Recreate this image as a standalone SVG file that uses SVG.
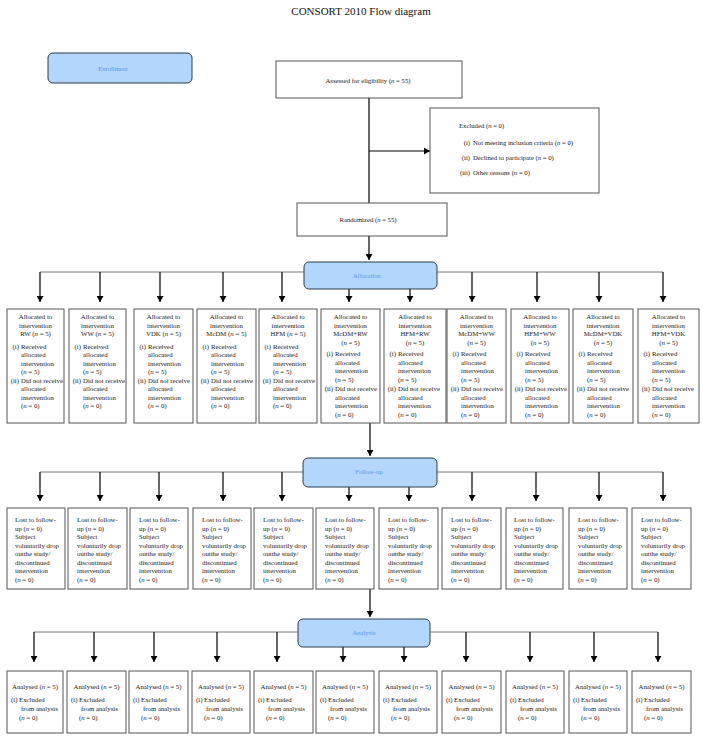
<svg xmlns="http://www.w3.org/2000/svg" width="703" height="741" viewBox="0 0 703 741">
<style>
.box{fill:#fff;stroke:#555;stroke-width:1}
.blue{fill:#b3d6fd;stroke:#2b3a4a;stroke-width:1}
.t{font-family:"Liberation Serif",serif;font-size:6.8px;fill:#1a1a1a}
.s{font-family:"Liberation Serif",serif;font-size:6.7px;fill:#1a1a1a}
.bt{font-family:"Liberation Serif",serif;font-size:6.6px;fill:#5a96e6;text-anchor:middle}
.c{text-anchor:middle}
.e{text-anchor:end}
.i{font-style:italic}
.h{stroke:#777;stroke-width:1;fill:none}
.a{stroke:#000;stroke-width:1.2;fill:none;marker-end:url(#ah)}
.l{stroke:#000;stroke-width:1.2;fill:none}
</style>
<defs>
<marker id="ah" viewBox="0 0 10 10" refX="10" refY="5" markerWidth="6" markerHeight="7" orient="auto" markerUnits="userSpaceOnUse" preserveAspectRatio="none">
<path d="M0,0 L10,5 L0,10 z" fill="#000"/>
</marker>
</defs>
<rect width="703" height="741" fill="#fff"/>
<text x="361" y="15" class="c" style="font-family:'Liberation Serif',serif;font-size:11px;fill:#111">CONSORT 2010 Flow diagram</text>

<g id="connectors">
<line class="l" x1="369" y1="98" x2="369" y2="203"/>
<line class="a" x1="369" y1="151" x2="430" y2="151"/>
<line class="a" x1="369" y1="236" x2="369" y2="260"/>
<line class="h" x1="40" y1="272" x2="663" y2="272"/>
<line class="a" x1="40" y1="272" x2="40" y2="302"/>
<line class="a" x1="100" y1="272" x2="100" y2="302"/>
<line class="a" x1="160" y1="272" x2="160" y2="302"/>
<line class="a" x1="223" y1="272" x2="223" y2="302"/>
<line class="a" x1="282" y1="272" x2="282" y2="302"/>
<line class="a" x1="349" y1="289" x2="349" y2="302"/>
<line class="a" x1="410" y1="289" x2="410" y2="302"/>
<line class="a" x1="472" y1="272" x2="472" y2="302"/>
<line class="a" x1="537" y1="272" x2="537" y2="302"/>
<line class="a" x1="599" y1="272" x2="599" y2="302"/>
<line class="a" x1="663" y1="272" x2="663" y2="302"/>
<line class="a" x1="370" y1="423" x2="370" y2="456"/>
<line class="h" x1="40" y1="472" x2="663" y2="472"/>
<line class="a" x1="40" y1="472" x2="40" y2="501"/>
<line class="a" x1="100" y1="472" x2="100" y2="501"/>
<line class="a" x1="159" y1="472" x2="159" y2="501"/>
<line class="a" x1="223" y1="472" x2="223" y2="501"/>
<line class="a" x1="282" y1="472" x2="282" y2="501"/>
<line class="a" x1="349" y1="487" x2="349" y2="501"/>
<line class="a" x1="409" y1="487" x2="409" y2="501"/>
<line class="a" x1="472" y1="472" x2="472" y2="501"/>
<line class="a" x1="536" y1="472" x2="536" y2="501"/>
<line class="a" x1="599" y1="472" x2="599" y2="501"/>
<line class="a" x1="663" y1="472" x2="663" y2="501"/>
<line class="a" x1="370" y1="589" x2="370" y2="617"/>
<line class="h" x1="34" y1="632" x2="658" y2="632"/>
<line class="a" x1="34" y1="632" x2="34" y2="662"/>
<line class="a" x1="94" y1="632" x2="94" y2="662"/>
<line class="a" x1="154" y1="632" x2="154" y2="662"/>
<line class="a" x1="217" y1="632" x2="217" y2="662"/>
<line class="a" x1="277" y1="632" x2="277" y2="662"/>
<line class="a" x1="343" y1="647" x2="343" y2="662"/>
<line class="a" x1="404" y1="647" x2="404" y2="662"/>
<line class="a" x1="466" y1="632" x2="466" y2="662"/>
<line class="a" x1="530" y1="632" x2="530" y2="662"/>
<line class="a" x1="594" y1="632" x2="594" y2="662"/>
<line class="a" x1="658" y1="632" x2="658" y2="662"/>
</g>

<g id="enrollment">
<rect class="blue" x="48" y="53" width="144" height="30" rx="5"/>
<text class="bt" x="113" y="71">Enrollment</text>
</g>
<g id="assessed">
<rect class="box" x="276" y="61" width="186" height="37"/>
<text class="s c" x="368" y="83">Assessed for eligibility (<tspan class="i">n</tspan> = 55)</text>
</g>
<g id="excluded">
<rect class="box" x="430" y="108" width="169" height="85"/>
<text class="s" x="459" y="128">Excluded (<tspan class="i">n</tspan> = 0)</text>
<text class="s e"><tspan x="470" y="145">(i)</tspan><tspan x="470" y="160">(ii)</tspan><tspan x="470" y="175">(iii)</tspan></text>
<text class="s"><tspan x="473" y="145">Not meeting inclusion criteria (<tspan class="i">n</tspan> = 0)</tspan><tspan x="473" y="160">Declined to participate (<tspan class="i">n</tspan> = 0)</tspan><tspan x="473" y="175">Other reasons (<tspan class="i">n</tspan> = 0)</tspan></text>
</g>
<g id="randomized">
<rect class="box" x="297" y="203" width="150" height="33"/>
<text class="s c" x="368" y="222">Randomized (<tspan class="i">n</tspan> = 55)</text>
</g>
<g id="allocation">
<rect class="blue" x="304" y="262" width="133" height="27" rx="5"/>
<text class="bt" x="367" y="278">Allocation</text>
</g>

<g id="alloc-rw">
<rect class="box" x="7" y="309" width="57" height="114"/>
<text class="t c"><tspan x="35.5" y="319">Allocated to</tspan><tspan x="35.5" y="327.5">intervention</tspan><tspan x="35.5" y="336">RW (<tspan class="i">n</tspan> = 5)</tspan></text>
<text class="t e"><tspan x="19" y="348.5">(i)</tspan><tspan x="19" y="382.5">(ii)</tspan></text>
<text class="t"><tspan x="21" y="348.5">Received</tspan><tspan x="21" y="357">allocated</tspan><tspan x="21" y="365.5">intervention</tspan><tspan x="21" y="374">(<tspan class="i">n</tspan> = 5)</tspan><tspan x="21" y="382.5">Did not receive</tspan><tspan x="21" y="391">allocated</tspan><tspan x="21" y="399.5">intervention</tspan><tspan x="21" y="408">(<tspan class="i">n</tspan> = 0)</tspan></text>
</g>
<g id="alloc-ww">
<rect class="box" x="69" y="309" width="57" height="114"/>
<text class="t c"><tspan x="97.5" y="319">Allocated to</tspan><tspan x="97.5" y="327.5">intervention</tspan><tspan x="97.5" y="336">WW (<tspan class="i">n</tspan> = 5)</tspan></text>
<text class="t e"><tspan x="81" y="348.5">(i)</tspan><tspan x="81" y="382.5">(ii)</tspan></text>
<text class="t"><tspan x="83" y="348.5">Received</tspan><tspan x="83" y="357">allocated</tspan><tspan x="83" y="365.5">intervention</tspan><tspan x="83" y="374">(<tspan class="i">n</tspan> = 5)</tspan><tspan x="83" y="382.5">Did not receive</tspan><tspan x="83" y="391">allocated</tspan><tspan x="83" y="399.5">intervention</tspan><tspan x="83" y="408">(<tspan class="i">n</tspan> = 0)</tspan></text>
</g>
<g id="alloc-vdk">
<rect class="box" x="134" y="309" width="59" height="114"/>
<text class="t c"><tspan x="163.5" y="319">Allocated to</tspan><tspan x="163.5" y="327.5">intervention</tspan><tspan x="163.5" y="336">VDK (<tspan class="i">n</tspan> = 5)</tspan></text>
<text class="t e"><tspan x="146" y="348.5">(i)</tspan><tspan x="146" y="382.5">(ii)</tspan></text>
<text class="t"><tspan x="148" y="348.5">Received</tspan><tspan x="148" y="357">allocated</tspan><tspan x="148" y="365.5">intervention</tspan><tspan x="148" y="374">(<tspan class="i">n</tspan> = 5)</tspan><tspan x="148" y="382.5">Did not receive</tspan><tspan x="148" y="391">allocated</tspan><tspan x="148" y="399.5">intervention</tspan><tspan x="148" y="408">(<tspan class="i">n</tspan> = 0)</tspan></text>
</g>
<g id="alloc-mcdm">
<rect class="box" x="197" y="309" width="59" height="114"/>
<text class="t c"><tspan x="226.5" y="319">Allocated to</tspan><tspan x="226.5" y="327.5">intervention</tspan><tspan x="226.5" y="336">McDM (<tspan class="i">n</tspan> = 5)</tspan></text>
<text class="t e"><tspan x="209" y="348.5">(i)</tspan><tspan x="209" y="382.5">(ii)</tspan></text>
<text class="t"><tspan x="211" y="348.5">Received</tspan><tspan x="211" y="357">allocated</tspan><tspan x="211" y="365.5">intervention</tspan><tspan x="211" y="374">(<tspan class="i">n</tspan> = 5)</tspan><tspan x="211" y="382.5">Did not receive</tspan><tspan x="211" y="391">allocated</tspan><tspan x="211" y="399.5">intervention</tspan><tspan x="211" y="408">(<tspan class="i">n</tspan> = 0)</tspan></text>
</g>
<g id="alloc-hfm">
<rect class="box" x="259" y="309" width="58" height="114"/>
<text class="t c"><tspan x="288" y="319">Allocated to</tspan><tspan x="288" y="327.5">intervention</tspan><tspan x="288" y="336">HFM (<tspan class="i">n</tspan> = 5)</tspan></text>
<text class="t e"><tspan x="271" y="348.5">(i)</tspan><tspan x="271" y="382.5">(ii)</tspan></text>
<text class="t"><tspan x="273" y="348.5">Received</tspan><tspan x="273" y="357">allocated</tspan><tspan x="273" y="365.5">intervention</tspan><tspan x="273" y="374">(<tspan class="i">n</tspan> = 5)</tspan><tspan x="273" y="382.5">Did not receive</tspan><tspan x="273" y="391">allocated</tspan><tspan x="273" y="399.5">intervention</tspan><tspan x="273" y="408">(<tspan class="i">n</tspan> = 0)</tspan></text>
</g>
<g id="alloc-mcdm-rw">
<rect class="box" x="321" y="309" width="59" height="114"/>
<text class="t c"><tspan x="350.5" y="319">Allocated to</tspan><tspan x="350.5" y="327.5">intervention</tspan><tspan x="350.5" y="336">McDM+RW</tspan><tspan x="350.5" y="344.5">(<tspan class="i">n</tspan> = 5)</tspan></text>
<text class="t e"><tspan x="333" y="356">(i)</tspan><tspan x="333" y="391">(ii)</tspan></text>
<text class="t"><tspan x="335" y="356">Received</tspan><tspan x="335" y="364.5">allocated</tspan><tspan x="335" y="373">intervention</tspan><tspan x="335" y="381.5">(<tspan class="i">n</tspan> = 5)</tspan><tspan x="335" y="391">Did not receive</tspan><tspan x="335" y="399.5">allocated</tspan><tspan x="335" y="408">intervention</tspan><tspan x="335" y="416.5">(<tspan class="i">n</tspan> = 0)</tspan></text>
</g>
<g id="alloc-hfm-rw">
<rect class="box" x="384" y="309" width="62" height="114"/>
<text class="t c"><tspan x="415" y="319">Allocated to</tspan><tspan x="415" y="327.5">intervention</tspan><tspan x="415" y="336">HFM+RW</tspan><tspan x="415" y="344.5">(<tspan class="i">n</tspan> = 5)</tspan></text>
<text class="t e"><tspan x="396" y="356">(i)</tspan><tspan x="396" y="391">(ii)</tspan></text>
<text class="t"><tspan x="398" y="356">Received</tspan><tspan x="398" y="364.5">allocated</tspan><tspan x="398" y="373">intervention</tspan><tspan x="398" y="381.5">(<tspan class="i">n</tspan> = 5)</tspan><tspan x="398" y="391">Did not receive</tspan><tspan x="398" y="399.5">allocated</tspan><tspan x="398" y="408">intervention</tspan><tspan x="398" y="416.5">(<tspan class="i">n</tspan> = 0)</tspan></text>
</g>
<g id="alloc-mcdm-ww">
<rect class="box" x="447" y="309" width="59" height="114"/>
<text class="t c"><tspan x="476.5" y="319">Allocated to</tspan><tspan x="476.5" y="327.5">intervention</tspan><tspan x="476.5" y="336">McDM+WW</tspan><tspan x="476.5" y="344.5">(<tspan class="i">n</tspan> = 5)</tspan></text>
<text class="t e"><tspan x="459" y="356">(i)</tspan><tspan x="459" y="391">(ii)</tspan></text>
<text class="t"><tspan x="461" y="356">Received</tspan><tspan x="461" y="364.5">allocated</tspan><tspan x="461" y="373">intervention</tspan><tspan x="461" y="381.5">(<tspan class="i">n</tspan> = 5)</tspan><tspan x="461" y="391">Did not receive</tspan><tspan x="461" y="399.5">allocated</tspan><tspan x="461" y="408">intervention</tspan><tspan x="461" y="416.5">(<tspan class="i">n</tspan> = 0)</tspan></text>
</g>
<g id="alloc-hfm-ww">
<rect class="box" x="511" y="309" width="58" height="114"/>
<text class="t c"><tspan x="540" y="319">Allocated to</tspan><tspan x="540" y="327.5">intervention</tspan><tspan x="540" y="336">HFM+WW</tspan><tspan x="540" y="344.5">(<tspan class="i">n</tspan> = 5)</tspan></text>
<text class="t e"><tspan x="523" y="356">(i)</tspan><tspan x="523" y="391">(ii)</tspan></text>
<text class="t"><tspan x="525" y="356">Received</tspan><tspan x="525" y="364.5">allocated</tspan><tspan x="525" y="373">intervention</tspan><tspan x="525" y="381.5">(<tspan class="i">n</tspan> = 5)</tspan><tspan x="525" y="391">Did not receive</tspan><tspan x="525" y="399.5">allocated</tspan><tspan x="525" y="408">intervention</tspan><tspan x="525" y="416.5">(<tspan class="i">n</tspan> = 0)</tspan></text>
</g>
<g id="alloc-mcdm-vdk">
<rect class="box" x="573" y="309" width="60" height="114"/>
<text class="t c"><tspan x="603" y="319">Allocated to</tspan><tspan x="603" y="327.5">intervention</tspan><tspan x="603" y="336">McDM+VDK</tspan><tspan x="603" y="344.5">(<tspan class="i">n</tspan> = 5)</tspan></text>
<text class="t e"><tspan x="585" y="356">(i)</tspan><tspan x="585" y="391">(ii)</tspan></text>
<text class="t"><tspan x="587" y="356">Received</tspan><tspan x="587" y="364.5">allocated</tspan><tspan x="587" y="373">intervention</tspan><tspan x="587" y="381.5">(<tspan class="i">n</tspan> = 5)</tspan><tspan x="587" y="391">Did not receive</tspan><tspan x="587" y="399.5">allocated</tspan><tspan x="587" y="408">intervention</tspan><tspan x="587" y="416.5">(<tspan class="i">n</tspan> = 0)</tspan></text>
</g>
<g id="alloc-hfm-vdk">
<rect class="box" x="638" y="309" width="61" height="114"/>
<text class="t c"><tspan x="668.5" y="319">Allocated to</tspan><tspan x="668.5" y="327.5">intervention</tspan><tspan x="668.5" y="336">HFM+VDK</tspan><tspan x="668.5" y="344.5">(<tspan class="i">n</tspan> = 5)</tspan></text>
<text class="t e"><tspan x="650" y="356">(i)</tspan><tspan x="650" y="391">(ii)</tspan></text>
<text class="t"><tspan x="652" y="356">Received</tspan><tspan x="652" y="364.5">allocated</tspan><tspan x="652" y="373">intervention</tspan><tspan x="652" y="381.5">(<tspan class="i">n</tspan> = 5)</tspan><tspan x="652" y="391">Did not receive</tspan><tspan x="652" y="399.5">allocated</tspan><tspan x="652" y="408">intervention</tspan><tspan x="652" y="416.5">(<tspan class="i">n</tspan> = 0)</tspan></text>
</g>

<g id="followup">
<rect class="blue" x="303" y="458" width="134" height="29" rx="5"/>
<text class="bt" x="369" y="474">Follow-up</text>
</g>

<g id="fu-1"><rect class="box" x="7" y="508" width="58" height="81"/>
<text class="t"><tspan x="15" y="522">Lost to follow-</tspan><tspan x="15" y="530.5">up (<tspan class="i">n</tspan> = 0)</tspan><tspan x="15" y="539">Subject</tspan><tspan x="15" y="547.5">voluntarily drop</tspan><tspan x="15" y="556">outthe study/</tspan><tspan x="15" y="564.5">discontinued</tspan><tspan x="15" y="573">intervention</tspan><tspan x="15" y="581.5">(<tspan class="i">n</tspan> = 0)</tspan></text></g>
<g id="fu-2"><rect class="box" x="68" y="508" width="59" height="81"/>
<text class="t"><tspan x="77" y="522">Lost to follow-</tspan><tspan x="77" y="530.5">up (<tspan class="i">n</tspan> = 0)</tspan><tspan x="77" y="539">Subject</tspan><tspan x="77" y="547.5">voluntarily drop</tspan><tspan x="77" y="556">outthe study/</tspan><tspan x="77" y="564.5">discontinued</tspan><tspan x="77" y="573">intervention</tspan><tspan x="77" y="581.5">(<tspan class="i">n</tspan> = 0)</tspan></text></g>
<g id="fu-3"><rect class="box" x="130" y="508" width="58" height="81"/>
<text class="t"><tspan x="139" y="522">Lost to follow-</tspan><tspan x="139" y="530.5">up (<tspan class="i">n</tspan> = 0)</tspan><tspan x="139" y="539">Subject</tspan><tspan x="139" y="547.5">voluntarily drop</tspan><tspan x="139" y="556">outthe study/</tspan><tspan x="139" y="564.5">discontinued</tspan><tspan x="139" y="573">intervention</tspan><tspan x="139" y="581.5">(<tspan class="i">n</tspan> = 0)</tspan></text></g>
<g id="fu-4"><rect class="box" x="193" y="508" width="58" height="81"/>
<text class="t"><tspan x="202" y="522">Lost to follow-</tspan><tspan x="202" y="530.5">up (<tspan class="i">n</tspan> = 0)</tspan><tspan x="202" y="539">Subject</tspan><tspan x="202" y="547.5">voluntarily drop</tspan><tspan x="202" y="556">outthe study/</tspan><tspan x="202" y="564.5">discontinued</tspan><tspan x="202" y="573">intervention</tspan><tspan x="202" y="581.5">(<tspan class="i">n</tspan> = 0)</tspan></text></g>
<g id="fu-5"><rect class="box" x="254" y="508" width="59" height="81"/>
<text class="t"><tspan x="263" y="522">Lost to follow-</tspan><tspan x="263" y="530.5">up (<tspan class="i">n</tspan> = 0)</tspan><tspan x="263" y="539">Subject</tspan><tspan x="263" y="547.5">voluntarily drop</tspan><tspan x="263" y="556">outthe study/</tspan><tspan x="263" y="564.5">discontinued</tspan><tspan x="263" y="573">intervention</tspan><tspan x="263" y="581.5">(<tspan class="i">n</tspan> = 0)</tspan></text></g>
<g id="fu-6"><rect class="box" x="316" y="508" width="58" height="81"/>
<text class="t"><tspan x="325" y="522">Lost to follow-</tspan><tspan x="325" y="530.5">up (<tspan class="i">n</tspan> = 0)</tspan><tspan x="325" y="539">Subject</tspan><tspan x="325" y="547.5">voluntarily drop</tspan><tspan x="325" y="556">outthe study/</tspan><tspan x="325" y="564.5">discontinued</tspan><tspan x="325" y="573">intervention</tspan><tspan x="325" y="581.5">(<tspan class="i">n</tspan> = 0)</tspan></text></g>
<g id="fu-7"><rect class="box" x="379" y="508" width="59" height="81"/>
<text class="t"><tspan x="388" y="522">Lost to follow-</tspan><tspan x="388" y="530.5">up (<tspan class="i">n</tspan> = 0)</tspan><tspan x="388" y="539">Subject</tspan><tspan x="388" y="547.5">voluntarily drop</tspan><tspan x="388" y="556">outthe study/</tspan><tspan x="388" y="564.5">discontinued</tspan><tspan x="388" y="573">intervention</tspan><tspan x="388" y="581.5">(<tspan class="i">n</tspan> = 0)</tspan></text></g>
<g id="fu-8"><rect class="box" x="442" y="508" width="59" height="81"/>
<text class="t"><tspan x="451" y="522">Lost to follow-</tspan><tspan x="451" y="530.5">up (<tspan class="i">n</tspan> = 0)</tspan><tspan x="451" y="539">Subject</tspan><tspan x="451" y="547.5">voluntarily drop</tspan><tspan x="451" y="556">outthe study/</tspan><tspan x="451" y="564.5">discontinued</tspan><tspan x="451" y="573">intervention</tspan><tspan x="451" y="581.5">(<tspan class="i">n</tspan> = 0)</tspan></text></g>
<g id="fu-9"><rect class="box" x="506" y="508" width="57" height="81"/>
<text class="t"><tspan x="514" y="522">Lost to follow-</tspan><tspan x="514" y="530.5">up (<tspan class="i">n</tspan> = 0)</tspan><tspan x="514" y="539">Subject</tspan><tspan x="514" y="547.5">voluntarily drop</tspan><tspan x="514" y="556">outthe study/</tspan><tspan x="514" y="564.5">discontinued</tspan><tspan x="514" y="573">intervention</tspan><tspan x="514" y="581.5">(<tspan class="i">n</tspan> = 0)</tspan></text></g>
<g id="fu-10"><rect class="box" x="569" y="508" width="58" height="81"/>
<text class="t"><tspan x="578" y="522">Lost to follow-</tspan><tspan x="578" y="530.5">up (<tspan class="i">n</tspan> = 0)</tspan><tspan x="578" y="539">Subject</tspan><tspan x="578" y="547.5">voluntarily drop</tspan><tspan x="578" y="556">outthe study/</tspan><tspan x="578" y="564.5">discontinued</tspan><tspan x="578" y="573">intervention</tspan><tspan x="578" y="581.5">(<tspan class="i">n</tspan> = 0)</tspan></text></g>
<g id="fu-11"><rect class="box" x="632" y="508" width="59" height="81"/>
<text class="t"><tspan x="641" y="522">Lost to follow-</tspan><tspan x="641" y="530.5">up (<tspan class="i">n</tspan> = 0)</tspan><tspan x="641" y="539">Subject</tspan><tspan x="641" y="547.5">voluntarily drop</tspan><tspan x="641" y="556">outthe study/</tspan><tspan x="641" y="564.5">discontinued</tspan><tspan x="641" y="573">intervention</tspan><tspan x="641" y="581.5">(<tspan class="i">n</tspan> = 0)</tspan></text></g>

<g id="analysis">
<rect class="blue" x="298" y="619" width="132" height="28" rx="5"/>
<text class="bt" x="364" y="635">Analysis</text>
</g>

<g id="an-1"><rect class="box" x="7" y="671" width="56" height="62"/>
<text class="t c" x="35" y="689">Analysed (<tspan class="i">n</tspan> = 5)</text>
<text class="t"><tspan x="11" y="702">(i)</tspan><tspan x="19" y="702">Excluded</tspan><tspan x="21" y="711">from analysis</tspan><tspan x="19" y="720">(<tspan class="i">n</tspan> = 0)</tspan></text></g>
<g id="an-2"><rect class="box" x="67" y="671" width="59" height="62"/>
<text class="t c" x="96.5" y="689">Analysed (<tspan class="i">n</tspan> = 5)</text>
<text class="t"><tspan x="71" y="702">(i)</tspan><tspan x="79" y="702">Excluded</tspan><tspan x="81" y="711">from analysis</tspan><tspan x="79" y="720">(<tspan class="i">n</tspan> = 0)</tspan></text></g>
<g id="an-3"><rect class="box" x="129" y="671" width="59" height="62"/>
<text class="t c" x="158.5" y="689">Analysed (<tspan class="i">n</tspan> = 5)</text>
<text class="t"><tspan x="133" y="702">(i)</tspan><tspan x="141" y="702">Excluded</tspan><tspan x="143" y="711">from analysis</tspan><tspan x="141" y="720">(<tspan class="i">n</tspan> = 0)</tspan></text></g>
<g id="an-4"><rect class="box" x="192" y="671" width="58" height="62"/>
<text class="t c" x="221" y="689">Analysed (<tspan class="i">n</tspan> = 5)</text>
<text class="t"><tspan x="196" y="702">(i)</tspan><tspan x="204" y="702">Excluded</tspan><tspan x="206" y="711">from analysis</tspan><tspan x="204" y="720">(<tspan class="i">n</tspan> = 0)</tspan></text></g>
<g id="an-5"><rect class="box" x="254" y="671" width="59" height="62"/>
<text class="t c" x="283.5" y="689">Analysed (<tspan class="i">n</tspan> = 5)</text>
<text class="t"><tspan x="258" y="702">(i)</tspan><tspan x="266" y="702">Excluded</tspan><tspan x="268" y="711">from analysis</tspan><tspan x="266" y="720">(<tspan class="i">n</tspan> = 0)</tspan></text></g>
<g id="an-6"><rect class="box" x="316" y="671" width="58" height="62"/>
<text class="t c" x="345" y="689">Analysed (<tspan class="i">n</tspan> = 5)</text>
<text class="t"><tspan x="320" y="702">(i)</tspan><tspan x="328" y="702">Excluded</tspan><tspan x="330" y="711">from analysis</tspan><tspan x="328" y="720">(<tspan class="i">n</tspan> = 0)</tspan></text></g>
<g id="an-7"><rect class="box" x="379" y="671" width="58" height="62"/>
<text class="t c" x="408" y="689">Analysed (<tspan class="i">n</tspan> = 5)</text>
<text class="t"><tspan x="383" y="702">(i)</tspan><tspan x="391" y="702">Excluded</tspan><tspan x="393" y="711">from analysis</tspan><tspan x="391" y="720">(<tspan class="i">n</tspan> = 0)</tspan></text></g>
<g id="an-8"><rect class="box" x="442" y="671" width="59" height="62"/>
<text class="t c" x="471.5" y="689">Analysed (<tspan class="i">n</tspan> = 5)</text>
<text class="t"><tspan x="446" y="702">(i)</tspan><tspan x="454" y="702">Excluded</tspan><tspan x="456" y="711">from analysis</tspan><tspan x="454" y="720">(<tspan class="i">n</tspan> = 0)</tspan></text></g>
<g id="an-9"><rect class="box" x="506" y="671" width="58" height="62"/>
<text class="t c" x="535" y="689">Analysed (<tspan class="i">n</tspan> = 5)</text>
<text class="t"><tspan x="510" y="702">(i)</tspan><tspan x="518" y="702">Excluded</tspan><tspan x="520" y="711">from analysis</tspan><tspan x="518" y="720">(<tspan class="i">n</tspan> = 0)</tspan></text></g>
<g id="an-10"><rect class="box" x="569" y="671" width="58" height="62"/>
<text class="t c" x="598" y="689">Analysed (<tspan class="i">n</tspan> = 5)</text>
<text class="t"><tspan x="573" y="702">(i)</tspan><tspan x="581" y="702">Excluded</tspan><tspan x="583" y="711">from analysis</tspan><tspan x="581" y="720">(<tspan class="i">n</tspan> = 0)</tspan></text></g>
<g id="an-11"><rect class="box" x="632" y="671" width="59" height="62"/>
<text class="t c" x="661.5" y="689">Analysed (<tspan class="i">n</tspan> = 5)</text>
<text class="t"><tspan x="636" y="702">(i)</tspan><tspan x="644" y="702">Excluded</tspan><tspan x="646" y="711">from analysis</tspan><tspan x="644" y="720">(<tspan class="i">n</tspan> = 0)</tspan></text></g>
</svg>
